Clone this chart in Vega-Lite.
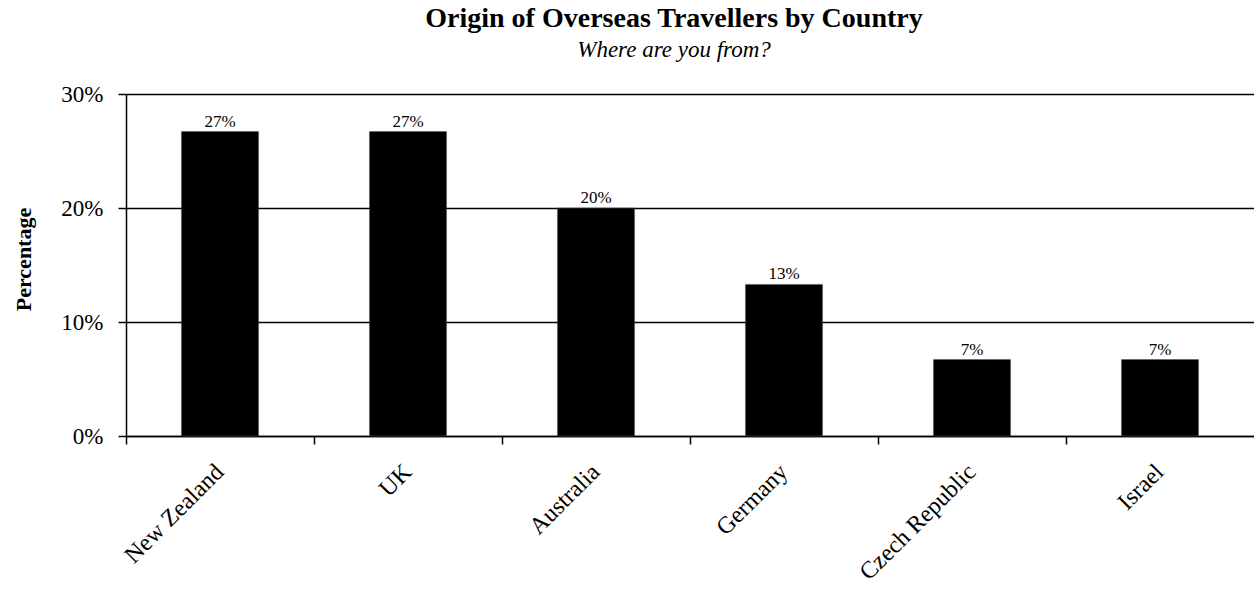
{
  "$schema": "https://vega.github.io/schema/vega-lite/v6.json",
  "width": 1128,
  "height": 342,
  "autosize": "none",
  "padding": {"left": 126, "top": 94, "right": 0, "bottom": 153},
  "background": "white",
  "config": {
    "view": {"stroke": null},
    "font": "Liberation Serif"
  },
  "title": {
    "text": "Origin of Overseas Travellers by Country",
    "subtitle": "Where are you from?",
    "anchor": "middle",
    "frame": "group",
    "dx": -16,
    "font": "Liberation Serif",
    "fontSize": 28,
    "fontWeight": "bold",
    "color": "black",
    "subtitleFont": "Liberation Serif",
    "subtitleFontSize": 23,
    "subtitleFontStyle": "italic",
    "subtitleColor": "black",
    "subtitlePadding": 6,
    "offset": 21
  },
  "data": {
    "values": [
      {"country": "New Zealand", "pct": 26.7, "label": "27%"},
      {"country": "UK", "pct": 26.7, "label": "27%"},
      {"country": "Australia", "pct": 20.0, "label": "20%"},
      {"country": "Germany", "pct": 13.3, "label": "13%"},
      {"country": "Czech Republic", "pct": 6.7, "label": "7%"},
      {"country": "Israel", "pct": 6.7, "label": "7%"}
    ]
  },
  "encoding": {
    "x": {
      "field": "country",
      "type": "nominal",
      "sort": null,
      "scale": {"paddingInner": 0.59, "paddingOuter": 0.295},
      "axis": {
        "title": null,
        "bandPosition": -0.7195,
        "labelAngle": -45,
        "labelAlign": "right",
        "labelBaseline": "middle",
        "labelFont": "Liberation Serif",
        "labelFontSize": 24,
        "labelColor": "black",
        "labelPadding": 24,
        "tickColor": "black",
        "tickSize": 8,
        "tickWidth": 1.5,
        "domainColor": "black",
        "domainWidth": 1.5,
        "grid": false
      }
    },
    "y": {
      "field": "pct",
      "type": "quantitative",
      "scale": {"domain": [0, 30], "nice": false},
      "axis": {
        "values": [0, 10, 20, 30],
        "labelExpr": "datum.value + '%'",
        "title": "Percentage",
        "titleFont": "Liberation Serif",
        "titleFontSize": 22,
        "titleFontWeight": "bold",
        "titleColor": "black",
        "titleX": -103,
        "titleY": 165,
        "titleAngle": -90,
        "titleAlign": "center",
        "titleBaseline": "middle",
        "labelFont": "Liberation Serif",
        "labelFontSize": 23,
        "labelColor": "black",
        "labelPadding": 15,
        "tickColor": "black",
        "tickSize": 8,
        "tickWidth": 1.5,
        "domainColor": "black",
        "domainWidth": 1.5,
        "grid": true,
        "gridColor": "black",
        "gridWidth": 1.5,
        "gridOpacity": 1
      }
    }
  },
  "layer": [
    {
      "mark": {"type": "bar", "color": "black", "stroke": "#555", "strokeWidth": 0.5}
    },
    {
      "mark": {"type": "text", "baseline": "bottom", "dy": -1, "font": "Liberation Serif", "fontSize": 17, "color": "black"},
      "encoding": {"text": {"field": "label"}}
    }
  ]
}
